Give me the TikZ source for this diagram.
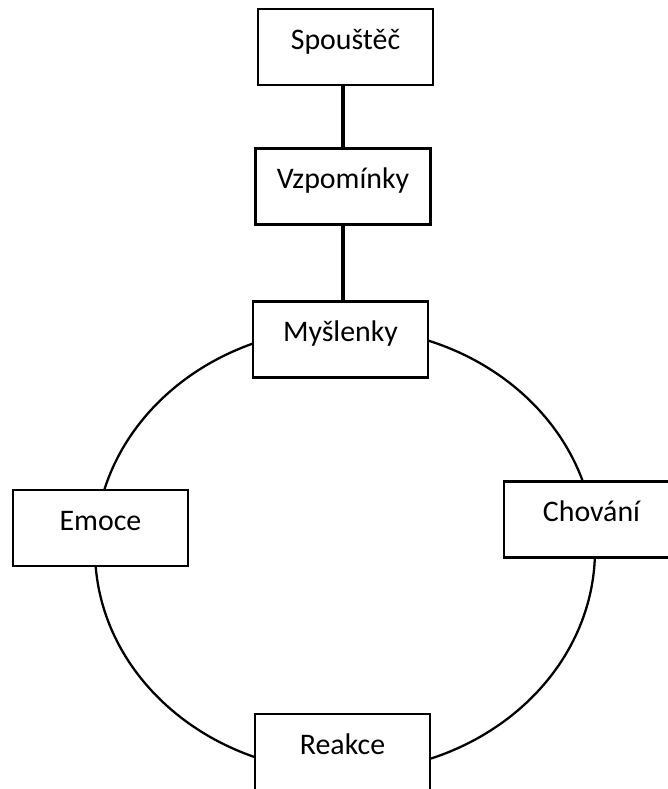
\documentclass[tikz,border=0pt]{standalone}
\usepackage{fontspec}
\setmainfont{Carlito}

\begin{document}
\begin{tikzpicture}[x=0.02cm,y=-0.02cm, box/.style={draw,line width=1.6pt,fill=white,minimum width=3.5cm,inner xsep=0pt,inner ysep=0pt,text height=0.8cm,text depth=0.72cm,font=\fontsize{17}{20}\selectfont}]
\useasboundingbox (0,0) rectangle (668,789);
\clip (0,0) rectangle (668,789);

% cycle
\coordinate (stred) at (345,550);
\draw[line width=1.3pt] (stred) ellipse [x radius=250, y radius=222];

\node[box] (spoustec) at (345.5,47) {Spouštěč};
\node[box] (vzpominky) at (343,186.5) {Vzpomínky};
\node[box] (myslenky) at (340.5,339.5) {Myšlenky};
\node[box] (emoce) at (100.5,528) {Emoce};
\node[box] (chovani) at (591.5,519.5) {Chování};
\node[box] (reakce) at (342.5,752) {Reakce};

\draw[line width=2pt] (vzpominky.north) -- (vzpominky.north |- spoustec.south);
\draw[line width=2pt] (vzpominky.south) -- (vzpominky.south |- myslenky.north);
\end{tikzpicture}
\end{document}
